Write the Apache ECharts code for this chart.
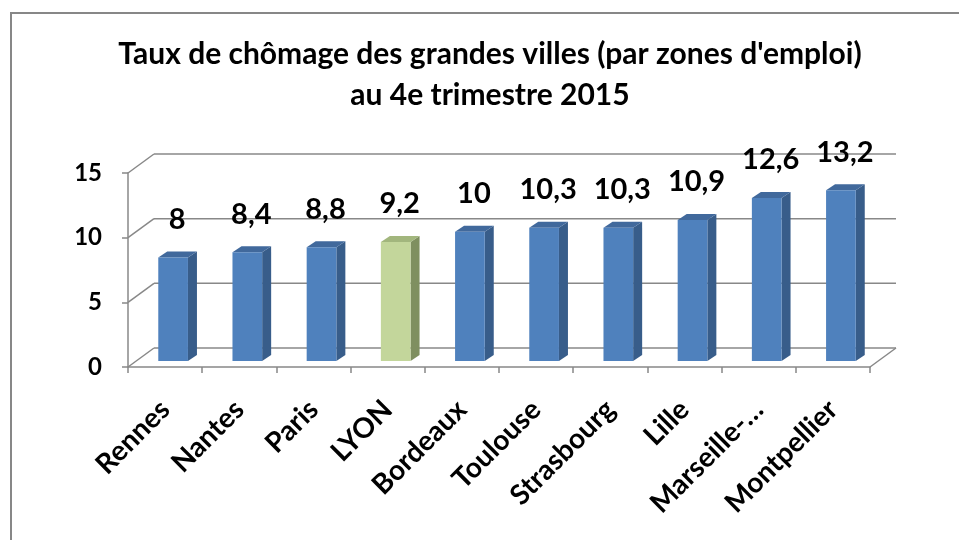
<!DOCTYPE html>
<html><head><meta charset="utf-8">
<script src="https://cdn.jsdelivr.net/npm/echarts@6/dist/echarts.min.js"></script>
<style>html,body{margin:0;padding:0;background:#fff}#c{width:959px;height:540px}</style>
</head><body><div id="c"></div>
<script>
var categories = ["Rennes","Nantes","Paris","LYON","Bordeaux","Toulouse","Strasbourg","Lille","Marseille-…","Montpellier"];
var values = [8, 8.4, 8.8, 9.2, 10, 10.3, 10.3, 10.9, 12.6, 13.2];
var highlighted = ["LYON"];
var yTicks = [0, 5, 10, 15];
var titleLines = ["Taux de chômage des grandes villes (par zones d'emploi)", "au 4e trimestre 2015"];

var FONT = "Lato";
var GRID = "#888888";
var WALL_DX = 26, WALL_DY = -19;
var BLUE = {front:"#4F81BD", side:"#385D8A", top:"#41699C"};
var GREEN = {front:"#C3D69B", side:"#7F8F60", top:"#A2B67D"};

var chart = echarts.init(document.getElementById('c'));

function wallItem(params, api){
  var cs = params.coordSys;
  var v = api.value(0);
  var p = api.coord([0, v]);
  var x0 = cs.x, y = p[1];
  var children = [
    {type:'line', shape:{x1:x0, y1:y, x2:x0+WALL_DX, y2:y+WALL_DY}, style:{stroke:GRID, lineWidth:1.5}},
    {type:'line', shape:{x1:x0+WALL_DX, y1:y+WALL_DY, x2:cs.x+cs.width+WALL_DX, y2:y+WALL_DY}, style:{stroke:GRID, lineWidth:1.5}}
  ];
  if (v === 0) {
    children.push({type:'line', shape:{x1:cs.x+cs.width, y1:y, x2:cs.x+cs.width+WALL_DX, y2:y+WALL_DY}, style:{stroke:GRID, lineWidth:1.5}});
  }
  return {type:'group', children:children};
}

function barItem(params, api){
  var i = api.value(0), v = api.value(1);
  var band = api.size([1, 0])[0];
  var base = api.coord([i, 0]);
  var top = api.coord([i, v]);
  var w = band * 0.4;
  var sx = band * 0.108, sy = -6;
  var dx = 9, dy = -6;
  var cx = base[0] + sx;
  var x = cx - w/2;
  var yb = base[1] + sy, yt = top[1] + sy;
  var col = highlighted.indexOf(categories[i]) >= 0 ? GREEN : BLUE;
  var label = String(v).replace('.', ',');
  return {type:'group', children:[
    {type:'polygon', shape:{points:[[x+w, yb],[x+w+dx, yb+dy],[x+w+dx, yt+dy],[x+w, yt]]}, style:{fill:col.side}},
    {type:'polygon', shape:{points:[[x, yt],[x+dx, yt+dy],[x+w+dx, yt+dy],[x+w, yt]]}, style:{fill:col.top}},
    {type:'rect', shape:{x:x, y:yt, width:w, height:yb-yt}, style:{fill:col.front}},
    {type:'text', x:cx + 4, y:yt - 38, style:{text:label, fill:'#000', font:'bold 29px ' + FONT, textAlign:'center', textVerticalAlign:'middle'}}
  ]};
}

chart.setOption({
  animation:false,
  backgroundColor:'#fff',
  graphic:[
    {type:'rect', shape:{x:11, y:13, width:960, height:560}, style:{fill:'none', stroke:'#878787', lineWidth:2}, z:0},
    {type:'text', x:490, y:54, style:{text:titleLines[0], font:'bold 30px ' + FONT, fill:'#000', textAlign:'center', textVerticalAlign:'middle'}},
    {type:'text', x:490, y:95, style:{text:titleLines[1], font:'bold 30px ' + FONT, fill:'#000', textAlign:'center', textVerticalAlign:'middle'}}
  ],
  grid:{left:128, right:89, top:173, bottom:173},
  xAxis:{type:'category', data:categories, boundaryGap:true,
    axisLine:{lineStyle:{color:GRID, width:1.5}},
    axisTick:{show:true, length:6, lineStyle:{color:GRID, width:1.5}},
    axisLabel:{rotate:45, margin:38, interval:0, color:'#000', fontFamily:FONT, fontWeight:'bold', fontSize:28},
    splitLine:{show:false}},
  yAxis:{type:'value', min:0, max:15, interval:5,
    axisLine:{show:true, lineStyle:{color:GRID, width:1.5}},
    axisTick:{show:true, length:6, lineStyle:{color:GRID, width:1.5}},
    axisLabel:{margin:26, color:'#000', fontFamily:FONT, fontWeight:'bold', fontSize:24},
    splitLine:{show:false}},
  series:[
    {type:'custom', renderItem:wallItem, data:yTicks.map(function(t){return [t];}), encode:{y:0}, z:1, silent:true},
    {type:'custom', renderItem:barItem, data:values.map(function(v,i){return [i, v];}), encode:{x:0, y:1}, z:3}
  ]
});
</script></body></html>
